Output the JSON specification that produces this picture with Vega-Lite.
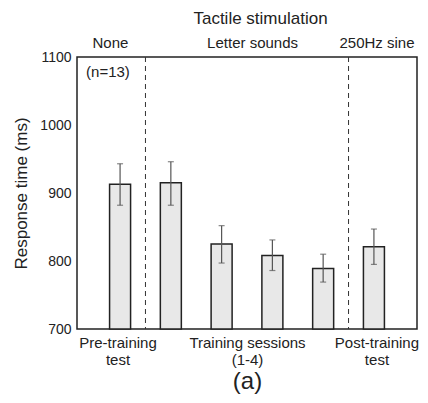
{
  "$schema": "https://vega.github.io/schema/vega-lite/v6.json",
  "width": 340,
  "height": 272,
  "autosize": {"type": "none"},
  "padding": {"left": 77, "top": 57, "right": 11, "bottom": 74},
  "background": "white",
  "config": {
    "view": {"stroke": "#222", "strokeWidth": 1.5},
    "font": "Liberation Sans",
    "axis": {
      "grid": false, "ticks": false, "domain": false,
      "labelColor": "#222", "titleColor": "#222",
      "labelFont": "Liberation Sans", "titleFont": "Liberation Sans",
      "titleFontWeight": "normal", "labelOverlap": false, "labelFlush": false
    }
  },
  "datasets": {
    "bars": [
      {"index": 1, "session": "Pre-training test", "mean": 913, "lo": 882, "hi": 943},
      {"index": 2, "session": "Training 1", "mean": 915, "lo": 882, "hi": 946},
      {"index": 3, "session": "Training 2", "mean": 825, "lo": 797, "hi": 852},
      {"index": 4, "session": "Training 3", "mean": 808, "lo": 786, "hi": 831},
      {"index": 5, "session": "Training 4", "mean": 789, "lo": 769, "hi": 810},
      {"index": 6, "session": "Post-training test", "mean": 821, "lo": 795, "hi": 847}
    ],
    "bounds": [{"boundary": 1.5}, {"boundary": 5.5}],
    "note": [{"label": "(n=13)", "x": 0.33, "y": 1078}]
  },
  "layer": [
    {
      "data": {"name": "bars"},
      "mark": {"type": "bar", "size": 21, "fill": "#e8e8e8", "stroke": "#222", "strokeWidth": 1.5},
      "encoding": {
        "x": {
          "field": "index", "type": "quantitative",
          "scale": {"domain": [0.25, 6.75], "nice": false, "zero": false},
          "axis": {
            "orient": "bottom", "values": [0.95, 3.5, 6.05],
            "labelExpr": "datum.value < 2 ? ['Pre-training', 'test'] : datum.value < 5 ? ['Training sessions', '(1-4)'] : ['Post-training', 'test']",
            "labelFontSize": 15, "labelLineHeight": 17, "labelPadding": 6,
            "title": "(a)", "titleFontSize": 24, "titlePadding": 2
          }
        },
        "y": {
          "field": "mean", "type": "quantitative",
          "scale": {"domain": [700, 1100], "nice": false, "zero": false},
          "axis": {
            "values": [700, 800, 900, 1000, 1100], "format": "d",
            "labelFontSize": 14, "labelPadding": 6,
            "title": "Response time (ms)", "titleFontSize": 17, "titlePadding": 9
          }
        },
        "y2": {"datum": 700}
      }
    },
    {
      "data": {"name": "bars"},
      "mark": {"type": "rule", "color": "#555", "strokeWidth": 1.2},
      "encoding": {
        "x": {"field": "index", "type": "quantitative", "axis": null},
        "y": {"field": "lo", "type": "quantitative"},
        "y2": {"field": "hi"}
      }
    },
    {
      "data": {"name": "bars"},
      "mark": {"type": "tick", "orient": "horizontal", "size": 6, "thickness": 1.2, "color": "#555"},
      "encoding": {
        "x": {"field": "index", "type": "quantitative", "axis": null},
        "y": {"field": "lo", "type": "quantitative"}
      }
    },
    {
      "data": {"name": "bars"},
      "mark": {"type": "tick", "orient": "horizontal", "size": 6, "thickness": 1.2, "color": "#555"},
      "encoding": {
        "x": {"field": "index", "type": "quantitative", "axis": null},
        "y": {"field": "hi", "type": "quantitative"}
      }
    },
    {
      "data": {"name": "bounds"},
      "mark": {"type": "rule", "strokeDash": [5, 4], "color": "#333", "strokeWidth": 1},
      "encoding": {
        "x": {
          "field": "boundary", "type": "quantitative",
          "axis": {
            "orient": "top", "values": [0.8, 3.6, 6.05],
            "labelExpr": "datum.value < 2 ? 'None' : datum.value < 5 ? 'Letter sounds' : '250Hz sine'",
            "labelFontSize": 15, "labelPadding": 7,
            "title": "Tactile stimulation", "titleFontSize": 17, "titlePadding": 8, "titleX": 183
          }
        }
      }
    },
    {
      "data": {"name": "note"},
      "mark": {"type": "text", "align": "left", "baseline": "middle", "fontSize": 15, "color": "#222"},
      "encoding": {
        "x": {"field": "x", "type": "quantitative", "axis": null},
        "y": {"field": "y", "type": "quantitative"},
        "text": {"field": "label"}
      }
    }
  ],
  "resolve": {"axis": {"x": "independent"}}
}
